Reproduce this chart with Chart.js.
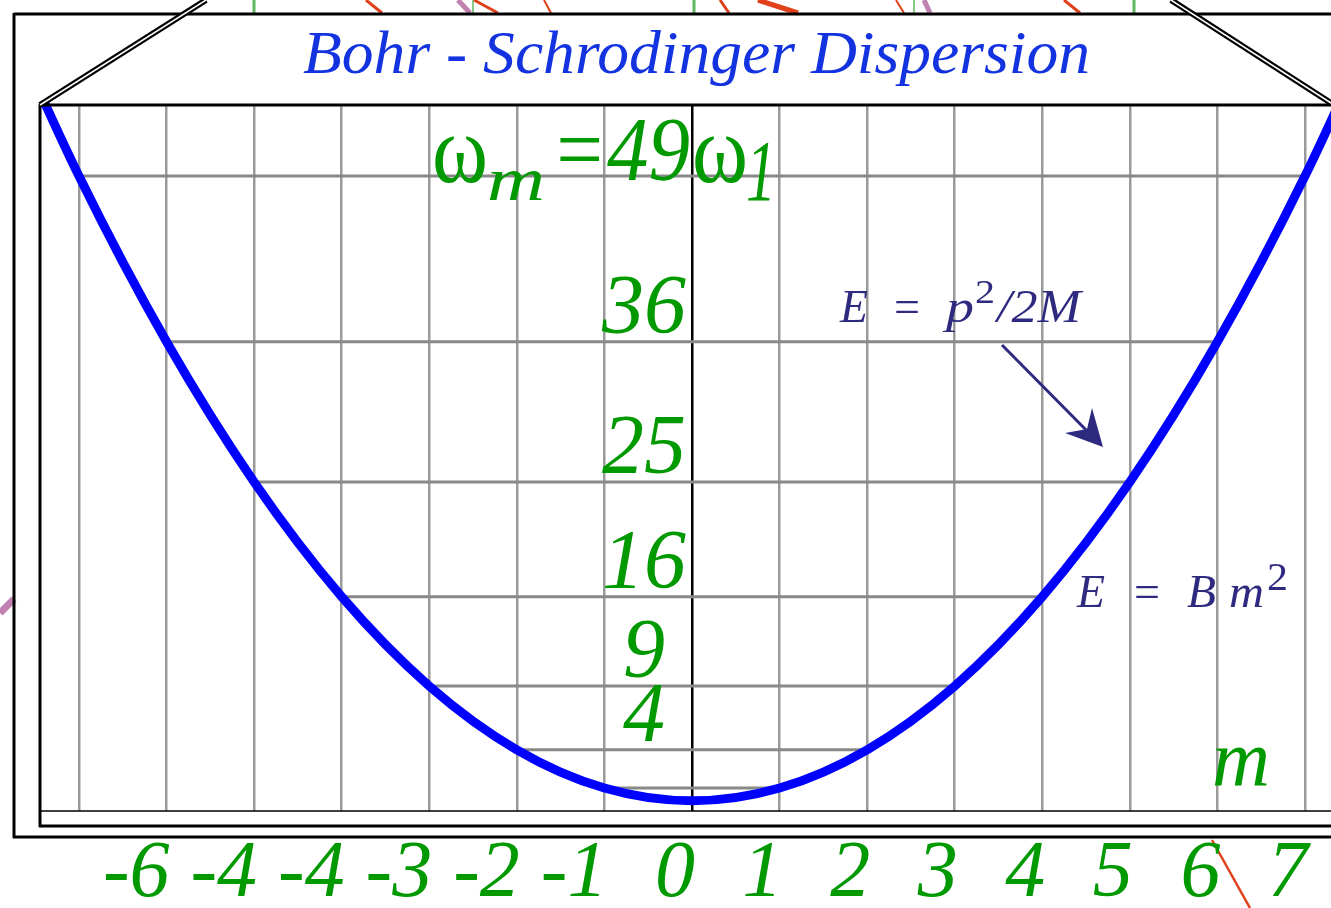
<!DOCTYPE html>
<html lang="en">
<head>
  <meta charset="UTF-8">
  <title>Bohr - Schrodinger Dispersion</title>
  <script src="https://cdn.jsdelivr.net/npm/chart.js"></script>
  <style>
    html, body { margin: 0; padding: 0; background: #fff; overflow: hidden; }
    canvas { display: block; }
  </style>
</head>
<body>
  <canvas id="disp" width="1331" height="908"></canvas>

  <script>
    // quantum number m and the energy E = m^2 (in units of B)
    const mValues = [-8, -7, -6, -5, -4, -3, -2, -1, 0, 1, 2, 3, 4, 5, 6, 7, 8];
    const energies = [64, 49, 36, 25, 16, 9, 4, 1, 0, 1, 4, 9, 16, 25, 36, 49, 64];

    // tick labels under the grid lines (as printed on the figure)
    const xTickValues = [-7, -6, -5, -4, -3, -2, -1, 0, 1, 2, 3, 4, 5, 6, 7];
    const xTickLabels = ["", "-6", "-4", "-4", "-3", "-2", "-1", "0", "1", "2", "3", "4", "5", "6", "7"];

    // levels written next to the centre axis
    const levelLabels = [4, 9, 16, 25, 36];
    const topLevel = 49;

    const SERIF = '"Liberation Serif", "Times New Roman", serif';
    const GREEN = "#009900";
    const INK = "#2e2a80";

    function put(ctx, str, x, base, font, color, w) {
      ctx.font = font;
      ctx.fillStyle = color;
      ctx.textAlign = "left";
      ctx.textBaseline = "alphabetic";
      const mw = ctx.measureText(str).width;
      ctx.save();
      ctx.translate(x, base);
      if (w) ctx.scale(w / mw, 1);
      ctx.fillText(str, 0, 0);
      ctx.restore();
    }

    function seg(ctx, x1, y1, x2, y2, color, lw) {
      ctx.beginPath();
      ctx.moveTo(x1, y1);
      ctx.lineTo(x2, y2);
      ctx.strokeStyle = color;
      ctx.lineWidth = lw;
      ctx.stroke();
    }

    const dispersionDecor = {
      id: "dispersionDecor",
      beforeDraw(chart) {
        const ctx = chart.ctx;
        ctx.save();
        ctx.fillStyle = "#fff";
        ctx.fillRect(0, 0, chart.width, chart.height);
        // bits of the surrounding figure peeking in
        ctx.lineCap = "butt";
        [254, 694, 1134].forEach(x => seg(ctx, x, 0, x, 13, "#5cb85c", 3));
        [473, 914].forEach(x => seg(ctx, x, 0, x, 13, "#5cb85c", 1.5));
        seg(ctx, 366, 0, 382, 13, "#e0401a", 3);
        seg(ctx, 474, 0, 498, 13, "#e0401a", 3);
        seg(ctx, 544, 0, 551, 13, "#e0401a", 2);
        seg(ctx, 720, 0, 729, 13, "#e0401a", 3);
        seg(ctx, 758, 0, 798, 13, "#e0401a", 5);
        seg(ctx, 896, 0, 904, 13, "#e0401a", 2);
        seg(ctx, 1064, 0, 1080, 13, "#e0401a", 3);
        seg(ctx, 458, 0, 470, 13, "#c080b0", 5);
        seg(ctx, 924, 0, 930, 13, "#c080b0", 5);
        seg(ctx, 0, 613, 14, 599, "#c080b0", 7);
        seg(ctx, 1212, 840, 1250, 908, "#e0401a", 2.5);
        ctx.restore();
      },
      beforeDatasetsDraw(chart) {
        const ctx = chart.ctx;
        const xs = chart.scales.x, ys = chart.scales.y;
        ctx.save();
        // horizontal level lines from -m to +m
        mValues.forEach((m, i) => {
          if (m <= 0 || m > 7) return;
          const y = ys.getPixelForValue(energies[i]);
          seg(ctx, xs.getPixelForValue(-m), y, xs.getPixelForValue(m), y, "#888", 3);
        });
        ctx.restore();
      },
      afterDraw(chart) {
        const ctx = chart.ctx;
        const ys = chart.scales.y;
        ctx.save();
        // outer box
        seg(ctx, 14, 14, 1331, 14, "#000", 3);
        seg(ctx, 14, 13, 14, 838, "#000", 3);
        seg(ctx, 13, 837, 1331, 837, "#000", 3);
        // inner box
        seg(ctx, 40, 105, 1331, 105, "#000", 3);
        seg(ctx, 40, 104, 40, 827, "#000", 3);
        seg(ctx, 39, 826, 1331, 826, "#000", 3);
        // axis line
        seg(ctx, 40, 811, 1331, 811, "#000", 1.5);
        // slanted double lines of the title panel
        seg(ctx, 40, 105, 206, 0, "#000", 6);
        seg(ctx, 40, 105, 206, 0, "#fff", 1.5);
        seg(ctx, 1331, 103, 1171, 0, "#000", 6);
        seg(ctx, 1331, 103, 1171, 0, "#fff", 1.5);

        // title
        put(ctx, "Bohr - Schrodinger Dispersion", 303, 73, "italic 62px " + SERIF, "#1433e0", 787);

        // top level label  ω_m = 49 ω_1
        put(ctx, "ω", 432, 182, "98px " + SERIF, GREEN, 56);
        put(ctx, "m", 487, 200, "italic 62px " + SERIF, GREEN, 58);
        put(ctx, "=" + topLevel, 551, 180, "italic 90px " + SERIF, GREEN, 139);
        put(ctx, "ω", 692, 182, "98px " + SERIF, GREEN, 56);
        put(ctx, "1", 746, 200, "italic 86px " + SERIF, GREEN, 30);

        // other level labels
        ctx.font = "italic 84px " + SERIF;
        ctx.fillStyle = GREEN;
        ctx.textAlign = "center";
        ctx.textBaseline = "alphabetic";
        levelLabels.forEach(v => {
          ctx.fillText(String(v), 644, ys.getPixelForValue(v) - 9);
        });

        // axis name
        put(ctx, "m", 1212, 785, "italic 80px " + SERIF, GREEN, 58);

        // E = p^2/2M with arrow
        put(ctx, "E", 840, 322, "italic 46px " + SERIF, INK, 28);
        put(ctx, "=", 894, 322, "46px " + SERIF, INK, 26);
        put(ctx, "p", 946, 322, "italic 46px " + SERIF, INK, 28);
        put(ctx, "2", 975, 303, "34px " + SERIF, INK, 20);
        put(ctx, "/2M", 997, 322, "italic 46px " + SERIF, INK, 84);
        seg(ctx, 1002, 345, 1094, 438, INK, 3);
        ctx.beginPath();
        ctx.moveTo(1103, 447);
        ctx.lineTo(1065, 433);
        ctx.lineTo(1087, 429);
        ctx.lineTo(1092, 408);
        ctx.closePath();
        ctx.fillStyle = INK;
        ctx.fill();

        // E = B m^2
        put(ctx, "E", 1077, 607, "italic 46px " + SERIF, INK, 28);
        put(ctx, "=", 1134, 607, "46px " + SERIF, INK, 26);
        put(ctx, "B", 1187, 607, "italic 46px " + SERIF, INK, 29);
        put(ctx, "m", 1229, 607, "italic 46px " + SERIF, INK, 35);
        put(ctx, "2", 1267, 590, "40px " + SERIF, INK, 21);
        ctx.restore();
      }
    };

    new Chart(document.getElementById("disp"), {
      type: "line",
      data: {
        datasets: [{
          data: mValues.map((m, i) => ({ x: m, y: energies[i] })),
          borderColor: "#0000ff",
          borderWidth: 9,
          pointRadius: 0,
          fill: false,
          cubicInterpolationMode: "monotone",
          clip: 3
        }]
      },
      options: {
        responsive: false,
        animation: false,
        devicePixelRatio: 1,
        layout: { padding: { top: 105, left: 40, right: 0, bottom: 0 } },
        plugins: { legend: { display: false }, tooltip: { enabled: false } },
        scales: {
          x: {
            type: "linear",
            min: -7.445,
            max: 7.297,
            afterFit: s => { s.height = 97; },
            border: { display: false },
            grid: {
              drawTicks: false,
              lineWidth: 2.5,
              color: c => (c.tick && c.tick.value === 0 ? "#000" : "#9a9a9a")
            },
            ticks: {
              stepSize: 1,
              includeBounds: false,
              autoSkip: false,
              maxRotation: 0,
              align: "end",
              labelOffset: 3,
              padding: 24,
              color: GREEN,
              font: { family: SERIF, size: 80, style: "italic", lineHeight: 1 },
              callback: v => {
                const i = xTickValues.indexOf(v);
                return i < 0 ? "" : xTickLabels[i];
              }
            }
          },
          y: {
            type: "linear",
            display: false,
            min: -0.8,
            max: 54.573
          }
        }
      },
      plugins: [dispersionDecor]
    });
  </script>
</body>
</html>
